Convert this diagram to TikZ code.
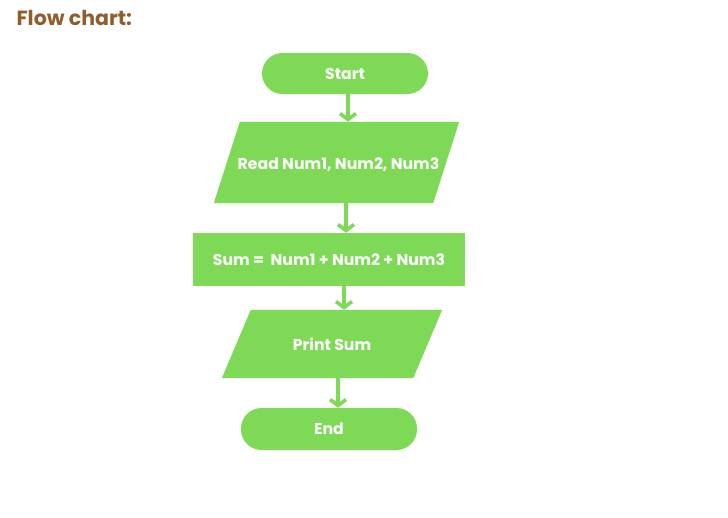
\documentclass[tikz,border=0pt]{standalone}
\usepackage{fontspec}
\setmainfont{Poppins}
\usetikzlibrary{arrows.meta,backgrounds}
\definecolor{fcgreen}{HTML}{7ED957}
\definecolor{fcbrown}{HTML}{8F5E2E}
\tikzset{
  x=1pt,y=-1pt,
  lbl/.style={text=white,font=\fontsize{15.7}{18}\selectfont\bfseries},
  term/.style={lbl,fill=fcgreen,rounded corners=20.5pt,draw=none},
  io/.style={lbl,rectangle,draw=none,inner sep=0pt},
  proc/.style={lbl,rectangle,fill=fcgreen,draw=none},
  flow/.style={draw=fcgreen,line width=3.6pt,-{Straight Barb[length=6pt,width=16pt,line width=3.6pt]}},
}
\begin{document}
\begin{tikzpicture}
\useasboundingbox (0,0) rectangle (728,517);
\node[anchor=base west,text=fcbrown,font=\fontsize{20.5}{24}\selectfont\bfseries] (title) at (13,25.5) {Flow chart:};
\node[term,minimum width=166pt,minimum height=41pt] (start) at (345,73.5) {Start};
\node[io,minimum width=219pt,minimum height=81pt] (read) at (338.5,164.5) {Read Num1, Num2, Num3};
\node[proc,minimum width=272pt,minimum height=53pt] (sum) at (329,259.5) {Sum =\ \ Num1 + Num2 + Num3};
\node[io,minimum width=191pt,minimum height=68pt] (print) at (332,344) {Print Sum};
\node[term,minimum width=176pt,minimum height=42pt] (end) at (329,429) {End};
\begin{scope}[on background layer]
\fill[fcgreen] ([shift={(11pt,2pt)}]read.north west) -- ([shift={(11pt,2pt)}]read.north east) -- ([shift={(-15pt,2pt)}]read.south east) -- ([shift={(-15pt,2pt)}]read.south west) -- cycle;
\fill[fcgreen] ([xshift=14.5pt]print.north west) -- ([xshift=14.5pt]print.north east) -- ([xshift=-14.5pt]print.south east) -- ([xshift=-14.5pt]print.south west) -- cycle;
\end{scope}
\coordinate (a1) at (348,0);
\coordinate (a2) at (346,0);
\coordinate (a3) at (344,0);
\coordinate (a4) at (338,0);
\draw[flow] (start.south -| a1) -- ([yshift=2pt]read.north -| a1);
\draw[flow] ([yshift=2pt]read.south -| a2) -- (sum.north -| a2);
\draw[flow] (sum.south -| a3) -- (print.north -| a3);
\draw[flow] (print.south -| a4) -- (end.north -| a4);
\end{tikzpicture}
\end{document}
